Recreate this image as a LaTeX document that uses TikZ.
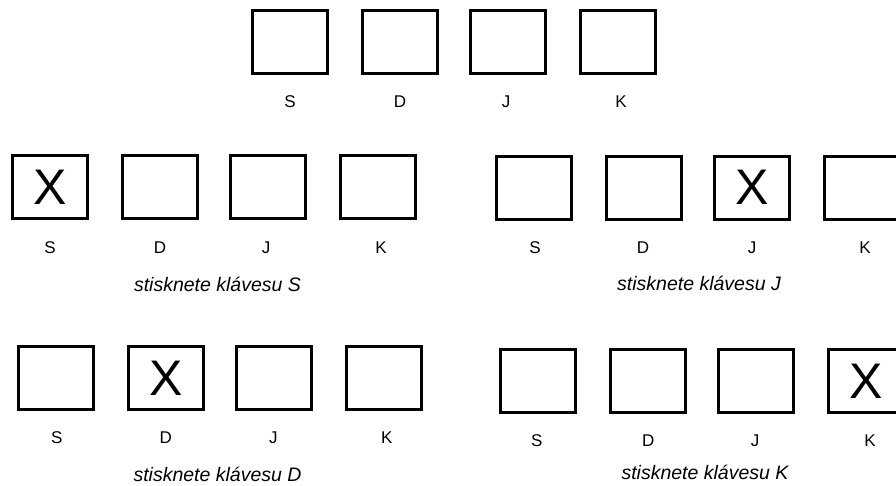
\documentclass[tikz,border=0pt]{standalone}
\usepackage{fontspec}
\setmainfont{Liberation Sans}
\begin{document}
\begin{tikzpicture}[x=1pt,y=-1pt,
  keybox/.style={draw=black,line width=3pt,minimum width=75pt,minimum height=63pt,inner sep=0pt,
    font=\fontsize{50}{50}\selectfont},
  keylabel/.style={inner sep=0pt,font=\fontsize{17}{20}\selectfont},
  caption/.style={inner sep=0pt,font=\fontsize{19.5}{22}\selectfont\itshape}]
\useasboundingbox (0,0) rectangle (896,485);
\clip (0,0) rectangle (896,485);
% top row
\node[keybox] (t1) at (290,42) {};
\node[keybox] (t2) at (400,42) {};
\node[keybox] (t3) at (508,42) {};
\node[keybox] (t4) at (618,42) {};
\node[keylabel] (tl1) at (290,102) {S};
\node[keylabel] (tl2) at (400,102) {D};
\node[keylabel] (tl3) at (506,102) {J};
\node[keylabel] (tl4) at (621,102) {K};
% row 2 left
\node[keybox] (a1) at (50,187) {X};
\node[keybox] (a2) at (160,187) {};
\node[keybox] (a3) at (268,187) {};
\node[keybox] (a4) at (378,187) {};
\node[keylabel] (al1) at (50,248) {S};
\node[keylabel] (al2) at (160,248) {D};
\node[keylabel] (al3) at (266,248) {J};
\node[keylabel] (al4) at (381,248) {K};
\node[caption] (ac) at (217.5,284) {stisknete klávesu S};
% row 2 right
\node[keybox] (b1) at (534,187.5) {};
\node[keybox] (b2) at (644,187.5) {};
\node[keybox] (b3) at (752,187.5) {X};
\node[keybox] (b4) at (862,187.5) {};
\node[keylabel] (bl1) at (535,248) {S};
\node[keylabel] (bl2) at (643,248) {D};
\node[keylabel] (bl3) at (752,248) {J};
\node[keylabel] (bl4) at (865,248) {K};
\node[caption] (bc) at (699,283) {stisknete klávesu J};
% row 3 left
\node[keybox] (c1) at (56.3,378) {};
\node[keybox] (c2) at (165.7,378) {X};
\node[keybox] (c3) at (274.3,378) {};
\node[keybox] (c4) at (384.2,378) {};
\node[keylabel] (cl1) at (56.7,438) {S};
\node[keylabel] (cl2) at (165.7,438) {D};
\node[keylabel] (cl3) at (273.3,438) {J};
\node[keylabel] (cl4) at (386.7,438) {K};
\node[caption] (cc) at (217.5,474) {stisknete klávesu D};
% row 3 right
\node[keybox] (d1) at (537.5,381) {};
\node[keybox] (d2) at (647.5,381) {};
\node[keybox] (d3) at (756,381) {};
\node[keybox] (d4) at (866,381) {X};
\node[keylabel] (dl1) at (536.7,441) {S};
\node[keylabel] (dl2) at (648.3,441) {D};
\node[keylabel] (dl3) at (755,441) {J};
\node[keylabel] (dl4) at (870,441) {K};
\node[caption] (dc) at (705,472) {stisknete klávesu K};
\end{tikzpicture}
\end{document}
